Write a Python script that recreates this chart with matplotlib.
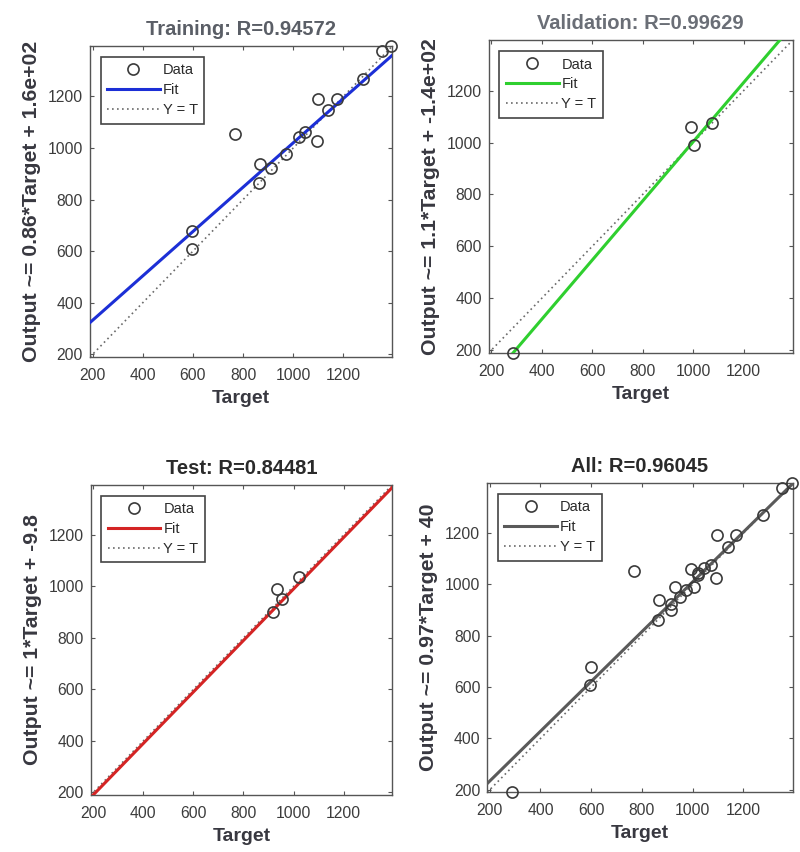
import matplotlib
matplotlib.use("Agg")
import matplotlib.pyplot as plt
import numpy as np

plt.rcParams['font.family'] = ['Liberation Sans', 'DejaVu Sans']

# ---- data ----
train_target = [1390, 1352, 1276, 1097, 1173, 1140, 767, 1021, 1045, 1094, 972, 869, 913, 863, 598, 596]
train_output = [1395, 1376, 1269, 1191, 1191, 1147, 1054, 1043, 1063, 1027, 978, 939, 923, 863, 677, 609]

val_target = [286, 993, 1004, 1073]
val_output = [190, 1059, 991, 1076]

test_target = [1021, 932, 952, 916]
test_output = [1038, 989, 951, 900]

all_target = train_target + val_target + test_target
all_output = train_output + val_output + test_output

titles = ["Training: R=0.94572", "Validation: R=0.99629", "Test: R=0.84481", "All: R=0.96045"]
ylabels = ["Output ~= 0.86*Target + 1.6e+02", "Output ~= 1.1*Target + -1.4e+02",
           "Output ~= 1*Target + -9.8", "Output ~= 0.97*Target + 40"]
fit_slope = [0.86, 1.14, 1.0, 0.97]
fit_intercept = [160, -137, -9.8, 40]
ticks = [200, 400, 600, 800, 1000, 1200]

fit_colors = ['#1c2fd6', '#2fcf2f', '#d42424', '#5a5a5a']
title_colors = ['#5a5e66', '#6a6e76', '#2a2a2a', '#2a2a2a']

datasets = [(train_target, train_output), (val_target, val_output),
            (test_target, test_output), (all_target, all_output)]

lo = min(min(all_target), min(all_output))
hi = max(max(all_target), max(all_output))

fig = plt.figure(figsize=(8.0, 8.52), dpi=100)
fig.patch.set_facecolor('white')

# axes rectangles in figure fractions
rects = [
    (0.1125, 0.581, 0.378, 0.365),
    (0.611, 0.586, 0.380, 0.367),
    (0.1135, 0.067, 0.377, 0.364),
    (0.609, 0.070, 0.382, 0.363),
]

text_col = '#383840'
for i, (tgt, out) in enumerate(datasets):
    ax = fig.add_axes(rects[i])
    ax.set_facecolor('white')
    xs = np.array([lo, hi])
    ax.plot(xs, xs, linestyle=(0, (1, 2)), color='#6a6a6a', lw=1.2, label='Y = T', zorder=2)
    ax.plot(xs, fit_slope[i] * xs + fit_intercept[i], color=fit_colors[i], lw=2.2,
            label='Fit', zorder=3)
    ax.plot(tgt, out, linestyle='none', marker='o', markersize=8, markerfacecolor='none',
            markeredgecolor='#3a3a3a', markeredgewidth=1.2, label='Data', zorder=4,
            clip_on=False)
    ax.set_xlim(lo, hi)
    ax.set_ylim(lo, hi)
    ax.set_xticks(ticks)
    ax.set_yticks(ticks)
    ax.tick_params(direction='in', length=3, width=0.8, colors='#555555', labelcolor='#3c3c3c',
                   labelsize=11.3, top=True, right=True)
    ax.tick_params(axis='x', pad=8)
    ax.tick_params(axis='y', pad=5)
    for s in ax.spines.values():
        s.set_color('#555555')
        s.set_linewidth(1.0)
    ax.set_title(titles[i], fontsize=14.5, fontweight='bold', color=title_colors[i], pad=8)
    ax.set_xlabel('Target', fontsize=14, fontweight='bold', color=text_col, labelpad=5)
    ax.set_ylabel(ylabels[i], fontsize=15.3, fontweight='bold', color=text_col, labelpad=5)

    h, l = ax.get_legend_handles_labels()
    order = [2, 1, 0]
    leg = ax.legend([h[k] for k in order], [l[k] for k in order], loc='upper left',
                    bbox_to_anchor=(0.035, 0.965), borderaxespad=0, fontsize=10.5,
                    handlelength=3.6, handletextpad=0.2, labelspacing=0.4,
                    borderpad=0.45, fancybox=False, framealpha=1, edgecolor='#444444',
                    numpoints=1)
    leg.get_frame().set_linewidth(1.2)
    for t in leg.get_texts():
        t.set_color('#2a2a2a')

fig.savefig('out.png', dpi=100, facecolor='white')
